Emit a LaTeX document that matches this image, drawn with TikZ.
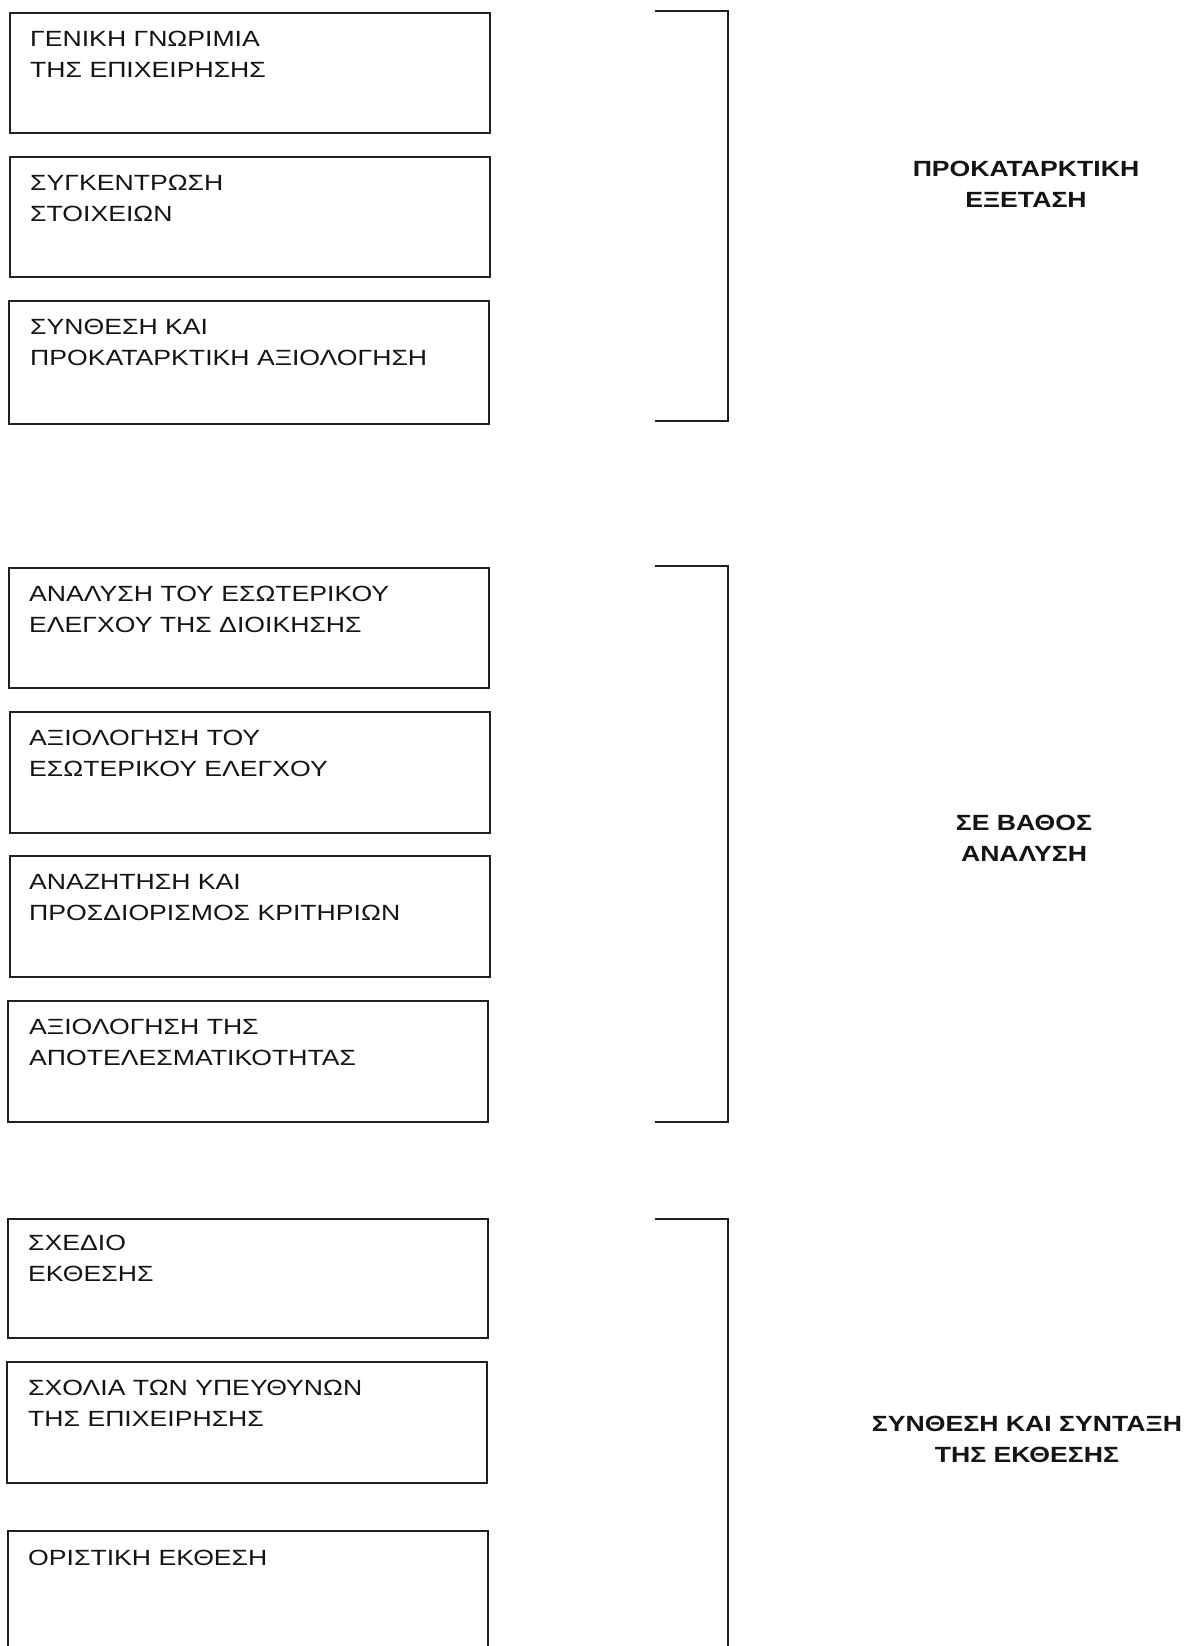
\documentclass[tikz,border=0pt]{standalone}
\usepackage{fontspec}
\setmainfont{Liberation Sans}[FakeStretch=1.21]
\definecolor{ink}{HTML}{141414}
\definecolor{linec}{HTML}{202020}
\begin{document}
\begin{tikzpicture}[x=1pt,y=-1pt,
  box/.style={draw=linec, line width=2.2pt, inner sep=0pt, anchor=north west, minimum width=480pt},
  boxtext/.style={anchor=north west, inner sep=0pt, align=left, text=ink, font=\fontsize{22}{30.7}\selectfont},
  lab/.style={anchor=north, inner sep=0pt, align=center, text=ink, font=\fontsize{22}{30.5}\selectfont\bfseries},
  brk/.style={draw=linec, line width=2.2pt}]
\useasboundingbox (0,0) rectangle (1188,1646);
\clip (0,0) rectangle (1188,1646);
\fill[white] (0,0) rectangle (1188,1646);

% boxes
\node[box, minimum height=120pt] (b1) at (9,12) {};
\node[box, minimum height=120pt] (b2) at (9,156) {};
\node[box, minimum height=123pt] (b3) at (8,300) {};
\node[box, minimum height=120pt] (b4) at (8,567) {};
\node[box, minimum height=121pt] (b5) at (9,711) {};
\node[box, minimum height=121pt] (b6) at (9,855) {};
\node[box, minimum height=121pt] (b7) at (7,1000) {};
\node[box, minimum height=119pt] (b8) at (7,1218) {};
\node[box, minimum height=121pt] (b9) at (6,1361) {};
\node[box, minimum height=200pt] (b10) at (7,1530) {};

% box texts
\node[boxtext] (t1) at ([xshift=21pt,yshift=-19pt]b1.north west) {ΓΕΝΙΚΗ ΓΝΩΡΙΜΙΑ\\ΤΗΣ ΕΠΙΧΕΙΡΗΣΗΣ};
\node[boxtext] (t2) at ([xshift=21pt,yshift=-19pt]b2.north west) {ΣΥΓΚΕΝΤΡΩΣΗ\\ΣΤΟΙΧΕΙΩΝ};
\node[boxtext] (t3) at ([xshift=22pt,yshift=-19pt]b3.north west) {ΣΥΝΘΕΣΗ ΚΑΙ\\ΠΡΟΚΑΤΑΡΚΤΙΚΗ ΑΞΙΟΛΟΓΗΣΗ};
\node[boxtext] (t4) at ([xshift=21pt,yshift=-19pt]b4.north west) {ΑΝΑΛΥΣΗ ΤΟΥ ΕΣΩΤΕΡΙΚΟΥ\\ΕΛΕΓΧΟΥ ΤΗΣ ΔΙΟΙΚΗΣΗΣ};
\node[boxtext] (t5) at ([xshift=20pt,yshift=-19pt]b5.north west) {ΑΞΙΟΛΟΓΗΣΗ ΤΟΥ\\ΕΣΩΤΕΡΙΚΟΥ ΕΛΕΓΧΟΥ};
\node[boxtext] (t6) at ([xshift=20pt,yshift=-19pt]b6.north west) {ΑΝΑΖΗΤΗΣΗ ΚΑΙ\\ΠΡΟΣΔΙΟΡΙΣΜΟΣ ΚΡΙΤΗΡΙΩΝ};
\node[boxtext] (t7) at ([xshift=22pt,yshift=-19pt]b7.north west) {ΑΞΙΟΛΟΓΗΣΗ ΤΗΣ\\ΑΠΟΤΕΛΕΣΜΑΤΙΚΟΤΗΤΑΣ};
\node[boxtext] (t8) at ([xshift=21pt,yshift=-17pt]b8.north west) {ΣΧΕΔΙΟ\\ΕΚΘΕΣΗΣ};
\node[boxtext] (t9) at ([xshift=22pt,yshift=-19pt]b9.north west) {ΣΧΟΛΙΑ ΤΩΝ ΥΠΕΥΘΥΝΩΝ\\ΤΗΣ ΕΠΙΧΕΙΡΗΣΗΣ};
\node[boxtext] (t10) at ([xshift=21pt,yshift=-20pt]b10.north west) {ΟΡΙΣΤΙΚΗ ΕΚΘΕΣΗ};

% brackets
\coordinate (k1a) at (655,11);  \coordinate (k1b) at (728,11);
\coordinate (k1c) at (728,421); \coordinate (k1d) at (655,421);
\draw[brk] (k1a) -- (k1b) -- (k1c) -- (k1d);
\coordinate (k2a) at (655,566);  \coordinate (k2b) at (728,566);
\coordinate (k2c) at (728,1122); \coordinate (k2d) at (655,1122);
\draw[brk] (k2a) -- (k2b) -- (k2c) -- (k2d);
\coordinate (k3a) at (655,1219); \coordinate (k3b) at (728,1219);
\coordinate (k3c) at (728,1700);
\draw[brk] (k3a) -- (k3b) -- (k3c);

% labels
\node[lab] (l1) at (1026,161) {ΠΡΟΚΑΤΑΡΚΤΙΚΗ\\ΕΞΕΤΑΣΗ};
\node[lab] (l2) at (1024,815) {ΣΕ ΒΑΘΟΣ\\ΑΝΑΛΥΣΗ};
\node[lab] (l3) at (1027,1416) {ΣΥΝΘΕΣΗ ΚΑΙ ΣΥΝΤΑΞΗ\\ΤΗΣ ΕΚΘΕΣΗΣ};
\end{tikzpicture}
\end{document}
